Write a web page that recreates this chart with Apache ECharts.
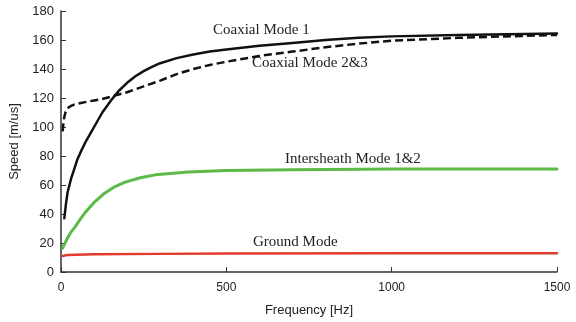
<!DOCTYPE html>
<html>
<head>
<meta charset="utf-8">
<script src="https://cdn.jsdelivr.net/npm/echarts@6/dist/echarts.min.js"></script>
<style>
  html, body { margin: 0; padding: 0; background: #fff; }
  #chart { width: 576px; height: 322px; }
</style>
</head>
<body>
<div id="chart"></div>
<script>
// frequency [Hz] and speed [m/us]
var coax1Freq  = [10, 15, 20, 30, 40, 50, 60, 75, 90, 100, 125, 150, 175, 200, 225, 250, 275, 300, 350, 400, 450, 500, 600, 700, 800, 900, 1000, 1200, 1500];
var coax1Speed = [37, 47, 55, 64, 71, 78, 83, 90, 96, 100, 110, 118, 125, 130.5, 135, 138.5, 141.5, 144, 147.5, 150, 152, 153.5, 156, 158, 160, 161.5, 162.5, 163.5, 164.5];

var coax23Freq  = [5, 7, 10, 14, 20, 30, 40, 60, 80, 100, 120, 160, 200, 250, 300, 350, 400, 450, 500, 600, 700, 800, 900, 1000, 1200, 1500];
var coax23Speed = [97, 102, 107, 110.5, 113, 114.5, 115.5, 116.5, 117.5, 118.3, 119, 121.5, 124, 128, 132, 136.5, 140, 142.8, 145, 149, 152, 155, 157.5, 159.5, 161.5, 163.5];

var interFreq  = [5, 10, 20, 30, 42, 60, 73, 100, 133, 160, 194, 240, 285, 385, 500, 700, 1000, 1500];
var interSpeed = [16.5, 19, 23.5, 27.5, 31, 37, 41, 48, 54.5, 58.5, 62, 65, 67, 69, 70, 70.5, 71, 71];

var groundFreq  = [5, 20, 100, 300, 500, 1000, 1500];
var groundSpeed = [11, 11.8, 12.2, 12.5, 12.8, 13, 13];

var seriesNames = ['Coaxial Mode 1', 'Coaxial Mode 2&3', 'Intersheath Mode 1&2', 'Ground Mode'];

function pairs(xs, ys) {
    var out = [];
    for (var i = 0; i < xs.length; i++) out.push([xs[i], ys[i]]);
    return out;
}

var myChart = echarts.init(document.getElementById('chart'));

var labelFont = {fontFamily: 'Liberation Serif', fontSize: 15, fill: '#222'};

function curve(name, freq, speed, lineStyle) {
    return {
        name: name, type: 'line', smooth: false, showSymbol: false,
        lineStyle: Object.assign({join: 'round', cap: 'round'}, lineStyle),
        data: pairs(freq, speed)
    };
}

var option = {
    animation: false,
    grid: {left: 61, right: 19, top: 11, bottom: 50},
    xAxis: {
        type: 'value',
        min: 0, max: 1500, interval: 500,
        name: 'Frequency [Hz]',
        nameLocation: 'middle',
        nameGap: 32,
        nameTextStyle: {fontFamily: 'Liberation Sans', fontSize: 13, color: '#222'},
        axisLine: {lineStyle: {color: '#333', width: 1.5}},
        axisTick: {inside: true, length: 5, lineStyle: {color: '#333'}},
        axisLabel: {fontFamily: 'Liberation Sans', fontSize: 12, color: '#222', margin: 10,
            formatter: function (v) { return String(v); }},
        splitLine: {show: false}
    },
    yAxis: {
        type: 'value',
        min: 0, max: 180, interval: 20,
        name: 'Speed [m/us]',
        nameLocation: 'middle',
        nameGap: 40,
        nameTextStyle: {fontFamily: 'Liberation Sans', fontSize: 13, color: '#222'},
        axisLine: {show: true, lineStyle: {color: '#333', width: 1.5}},
        axisTick: {show: true, inside: true, length: 5, lineStyle: {color: '#333'}},
        axisLabel: {fontFamily: 'Liberation Sans', fontSize: 13, color: '#222', margin: 7},
        splitLine: {show: false}
    },
    series: [
        curve(seriesNames[0], coax1Freq, coax1Speed, {color: '#111', width: 2.5}),
        curve(seriesNames[1], coax23Freq, coax23Speed, {color: '#111', width: 2.5, type: [8, 4], cap: 'butt'}),
        curve(seriesNames[2], interFreq, interSpeed, {color: '#5cba47', width: 3}),
        curve(seriesNames[3], groundFreq, groundSpeed, {color: '#e23a2c', width: 2.5})
    ],
    graphic: [
        {type: 'text', left: 213, top: 23, style: Object.assign({text: seriesNames[0]}, labelFont)},
        {type: 'text', left: 252, top: 56, style: Object.assign({text: seriesNames[1]}, labelFont)},
        {type: 'text', left: 285, top: 152, style: Object.assign({text: seriesNames[2]}, labelFont)},
        {type: 'text', left: 253, top: 235, style: Object.assign({text: seriesNames[3]}, labelFont)}
    ]
};

myChart.setOption(option);
</script>
</body>
</html>
